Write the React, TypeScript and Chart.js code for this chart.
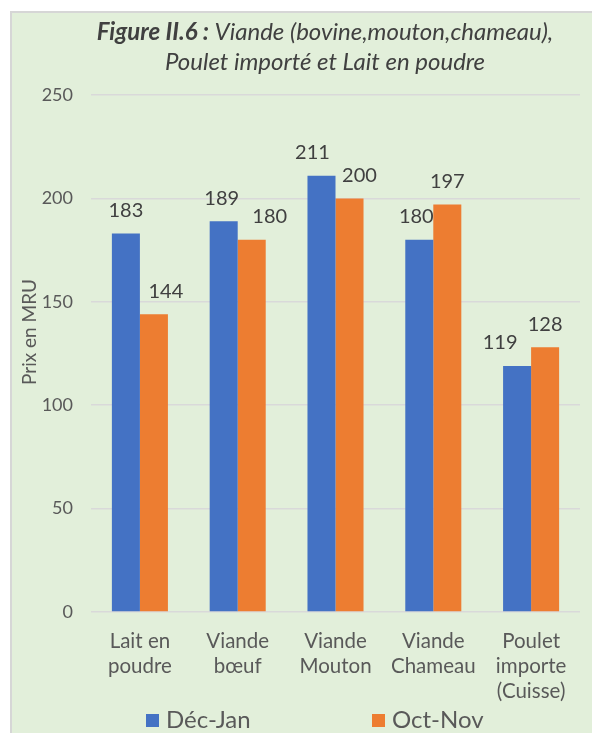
import React, { useEffect, useRef } from "react";
import { Chart, registerables } from "chart.js";

Chart.register(...registerables);

const categories: string[][] = [
  ["Lait en", "poudre"],
  ["Viande", "bœuf"],
  ["Viande", "Mouton"],
  ["Viande", "Chameau"],
  ["Poulet", "importe", "(Cuisse)"],
];
const seriesNames = ["Déc-Jan", "Oct-Nov"];
const decJan = [183, 189, 211, 180, 119];
const octNov = [144, 180, 200, 197, 128];
const yTicks = [0, 50, 100, 150, 200, 250];
const titleBold = "Figure II.6 :";
const titleRest = " Viande (bovine,mouton,chameau),";
const titleLine2 = "Poulet importé et Lait en poudre";
const yTitle = "Prix en MRU";

const BLUE = "#4472C4";
const ORANGE = "#ED7D31";
const BG = "#E2EFDA";
const FONT = "Lato, 'Open Sans', sans-serif";

// label nudges (px), like the hand-placed labels in the source
const labelDx = [
  [0, 12],
  [-2, 18],
  [-9, 10],
  [-3, 0],
  [-17, 0],
];

const decorPlugin = {
  id: "decor",
  beforeDraw(chart: any) {
    const ctx = chart.ctx;
    const w = chart.width;
    const h = chart.height;
    ctx.save();
    ctx.fillStyle = "#ffffff";
    ctx.fillRect(0, 0, w, h);
    ctx.fillStyle = BG;
    ctx.fillRect(11, 12, w - 11, h - 12);
    ctx.strokeStyle = "#D6D6D6";
    ctx.lineWidth = 2;
    ctx.beginPath();
    ctx.moveTo(11, h);
    ctx.lineTo(11, 12);
    ctx.lineTo(w, 12);
    ctx.stroke();
    ctx.restore();
  },
  afterDraw(chart: any) {
    const ctx = chart.ctx;
    ctx.save();
    // title
    ctx.fillStyle = "#404040";
    ctx.textBaseline = "middle";
    ctx.textAlign = "left";
    const fb = `italic bold 24px ${FONT}`;
    const fr = `italic 24px ${FONT}`;
    ctx.font = fb;
    const wb = ctx.measureText(titleBold).width;
    ctx.font = fr;
    const wr = ctx.measureText(titleRest).width;
    const cx = 325;
    let x0 = cx - (wb + wr) / 2;
    ctx.font = fb;
    ctx.fillText(titleBold, x0, 32);
    ctx.font = fr;
    ctx.fillText(titleRest, x0 + wb, 32);
    ctx.textAlign = "center";
    ctx.fillText(titleLine2, cx, 62);

    // y title
    ctx.save();
    ctx.translate(29.5, 332);
    ctx.rotate(-Math.PI / 2);
    ctx.font = `19px ${FONT}`;
    ctx.fillStyle = "#595959";
    ctx.textAlign = "center";
    ctx.textBaseline = "middle";
    ctx.fillText(yTitle, 0, 0);
    ctx.restore();

    // data labels
    ctx.font = `20px ${FONT}`;
    ctx.fillStyle = "#404040";
    ctx.textAlign = "center";
    ctx.textBaseline = "middle";
    chart.data.datasets.forEach((ds: any, di: number) => {
      const meta = chart.getDatasetMeta(di);
      meta.data.forEach((bar: any, i: number) => {
        const dx = labelDx[i] ? labelDx[i][di] : 0;
        ctx.fillText(String(ds.data[i]), bar.x + dx, bar.y - 23);
      });
    });

    // legend
    const items = [
      { name: seriesNames[0], color: BLUE, x: 146 },
      { name: seriesNames[1], color: ORANGE, x: 372 },
    ];
    ctx.font = `24px ${FONT}`;
    ctx.textAlign = "left";
    items.forEach((it) => {
      ctx.fillStyle = it.color;
      ctx.fillRect(it.x, 714, 13, 13);
      ctx.fillStyle = "#595959";
      ctx.fillText(it.name, it.x + 20, 720.5);
    });
    ctx.restore();
  },
};

export default function App() {
  const ref = useRef<HTMLCanvasElement | null>(null);
  useEffect(() => {
    if (!ref.current) return;
    const chart = new Chart(ref.current, {
      type: "bar",
      data: {
        labels: categories,
        datasets: [
          {
            label: seriesNames[0],
            data: decJan,
            backgroundColor: BLUE,
            categoryPercentage: 0.573,
            barPercentage: 1,
          },
          {
            label: seriesNames[1],
            data: octNov,
            backgroundColor: ORANGE,
            categoryPercentage: 0.573,
            barPercentage: 1,
          },
        ],
      },
      options: {
        responsive: false,
        animation: false,
        layout: { padding: { top: 95, right: 12, bottom: 0, left: 0 } },
        plugins: {
          legend: { display: false },
          title: { display: false },
          tooltip: { enabled: false },
        },
        scales: {
          x: {
            grid: { display: false, drawTicks: false },
            border: { display: false },
            ticks: {
              autoSkip: false,
              maxRotation: 0,
              padding: 17,
              color: "#595959",
              font: { family: FONT, size: 20.5, lineHeight: 1.22 },
            },
            afterFit: (axis: any) => {
              axis.height = 121;
            },
          },
          y: {
            min: 0,
            max: 250,
            afterBuildTicks: (axis: any) => {
              axis.ticks = yTicks.map((v) => ({ value: v }));
            },
            grid: { color: "#D9D9D9", lineWidth: 1.5, drawTicks: false },
            border: { display: false },
            ticks: {
              padding: 18,
              color: "#595959",
              font: { family: FONT, size: 18 },
            },
            afterFit: (axis: any) => {
              axis.width = 91;
            },
          },
        },
      },
      plugins: [decorPlugin],
    } as any);
    return () => chart.destroy();
  }, []);
  return (
    <div style={{ position: "absolute", left: 0, top: 0, width: 592, height: 733 }}>
      <canvas ref={ref} width={592} height={733} style={{ display: "block" }} />
    </div>
  );
}
